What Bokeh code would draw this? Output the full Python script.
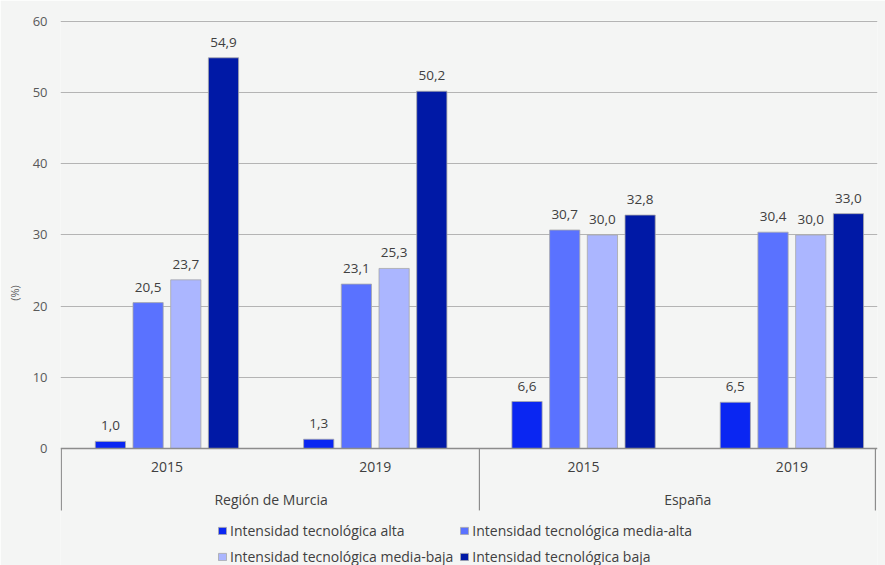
from bokeh.plotting import figure
from bokeh.models import ColumnDataSource, FixedTicker, Legend, LegendItem, Span, Range1d
from bokeh.core.properties import value
from bokeh.embed import file_html
from bokeh.resources import INLINE

# ---- data ----
regions = ["Región de Murcia", "España"]
years = ["2015", "2019", "2015", "2019"]
series = [
    "Intensidad tecnológica alta",
    "Intensidad tecnológica media-alta",
    "Intensidad tecnológica media-baja",
    "Intensidad tecnológica baja",
]
alta = [1.0, 1.3, 6.6, 6.5]
media_alta = [20.5, 23.1, 30.7, 30.4]
media_baja = [23.7, 25.3, 30.0, 30.0]
baja = [54.9, 50.2, 32.8, 33.0]
y_ticks = [0, 10, 20, 30, 40, 50, 60]

# ---- style ----
colors = ["#0a26f2", "#5a72ff", "#abb6ff", "#0019a6"]
BG = "#f4f5f4"
FONT = "Open Sans"
TXT = "#404040"

X0, X1 = -0.511, 3.411
p = figure(width=885, height=565, output_backend="svg", toolbar_location=None,
           x_range=Range1d(X0, X1), y_range=Range1d(-16.44, 60.14),
           x_axis_type=None, min_border_left=60, min_border_right=8,
           min_border_top=20, min_border_bottom=0)
p.background_fill_color = BG
p.border_fill_color = BG
p.outline_line_color = None
p.xgrid.visible = False

yax = p.yaxis[0]
yax.ticker = FixedTicker(ticks=y_ticks)
yax.axis_line_color = None
yax.major_tick_line_color = None
yax.minor_tick_line_color = None
yax.major_tick_out = 0
yax.major_label_standoff = 13
yax.major_label_text_font = FONT
yax.major_label_text_font_size = "13px"
yax.major_label_text_color = "#595959"
yax.axis_label = "(%)"
yax.axis_label_text_font = FONT
yax.axis_label_text_font_size = "11px"
yax.axis_label_text_font_style = "normal"
yax.axis_label_text_color = "#595959"
yax.axis_label_standoff = 8

p.ygrid.ticker = FixedTicker(ticks=y_ticks[1:])
p.ygrid.grid_line_color = "#b4b4b4"
p.ygrid.grid_line_width = 1

groups = [0, 1, 2, 3]
step = 0.181
offsets = [-1.5 * step, -0.5 * step, 0.5 * step, 1.5 * step]
bw = 0.145
values = [alta, media_alta, media_baja, baja]

items = []
for s, (name, vals, col, off) in enumerate(zip(series, values, colors, offsets)):
    src = ColumnDataSource(dict(
        x=[g + off for g in groups], top=vals,
        lab=[f"{v:.1f}".replace(".", ",") for v in vals]))
    r = p.vbar(x="x", top="top", width=bw, bottom=0, source=src,
               fill_color=col, line_color="#a8a8a8", line_width=0.8)
    p.text(x="x", y="top", text="lab", source=src, text_align="center",
           text_baseline="bottom", y_offset=-11, text_font=value(FONT),
           text_font_size="13.5px", text_color=TXT)
    items.append(LegendItem(label=name, renderers=[r]))

# axis line at zero
p.add_layout(Span(location=0, dimension="width", line_color="#8c8c8c", line_width=1.6))

# category separators
sep_x = [X0 + 0.004, 1.5, X1 - 0.01]
p.segment(x0=sep_x, x1=sep_x, y0=[0] * 3, y1=[-8.7] * 3, line_color="#8c8c8c", line_width=1.2)

# year labels
p.text(x=groups, y=[-2.6] * 4, text=years, text_align="center", text_baseline="middle",
       text_font=value(FONT), text_font_size="14px", text_color=TXT)
# region labels
p.text(x=[0.5, 2.5], y=[-7.17] * 2, text=regions, text_align="center", text_baseline="middle",
       text_font=value(FONT), text_font_size="14px", text_color=TXT)

legend = Legend(items=items, location=(157, -1), orientation="horizontal", ncols=2,
                glyph_width=10, glyph_height=9, label_standoff=3, spacing=6,
                padding=0, margin=0, label_height=20,
                label_text_font=FONT, label_text_font_size="14px",
                label_text_color=TXT, background_fill_alpha=0,
                border_line_color=None)
p.add_layout(legend)

open("out.html", "w").write(file_html(p, INLINE))
